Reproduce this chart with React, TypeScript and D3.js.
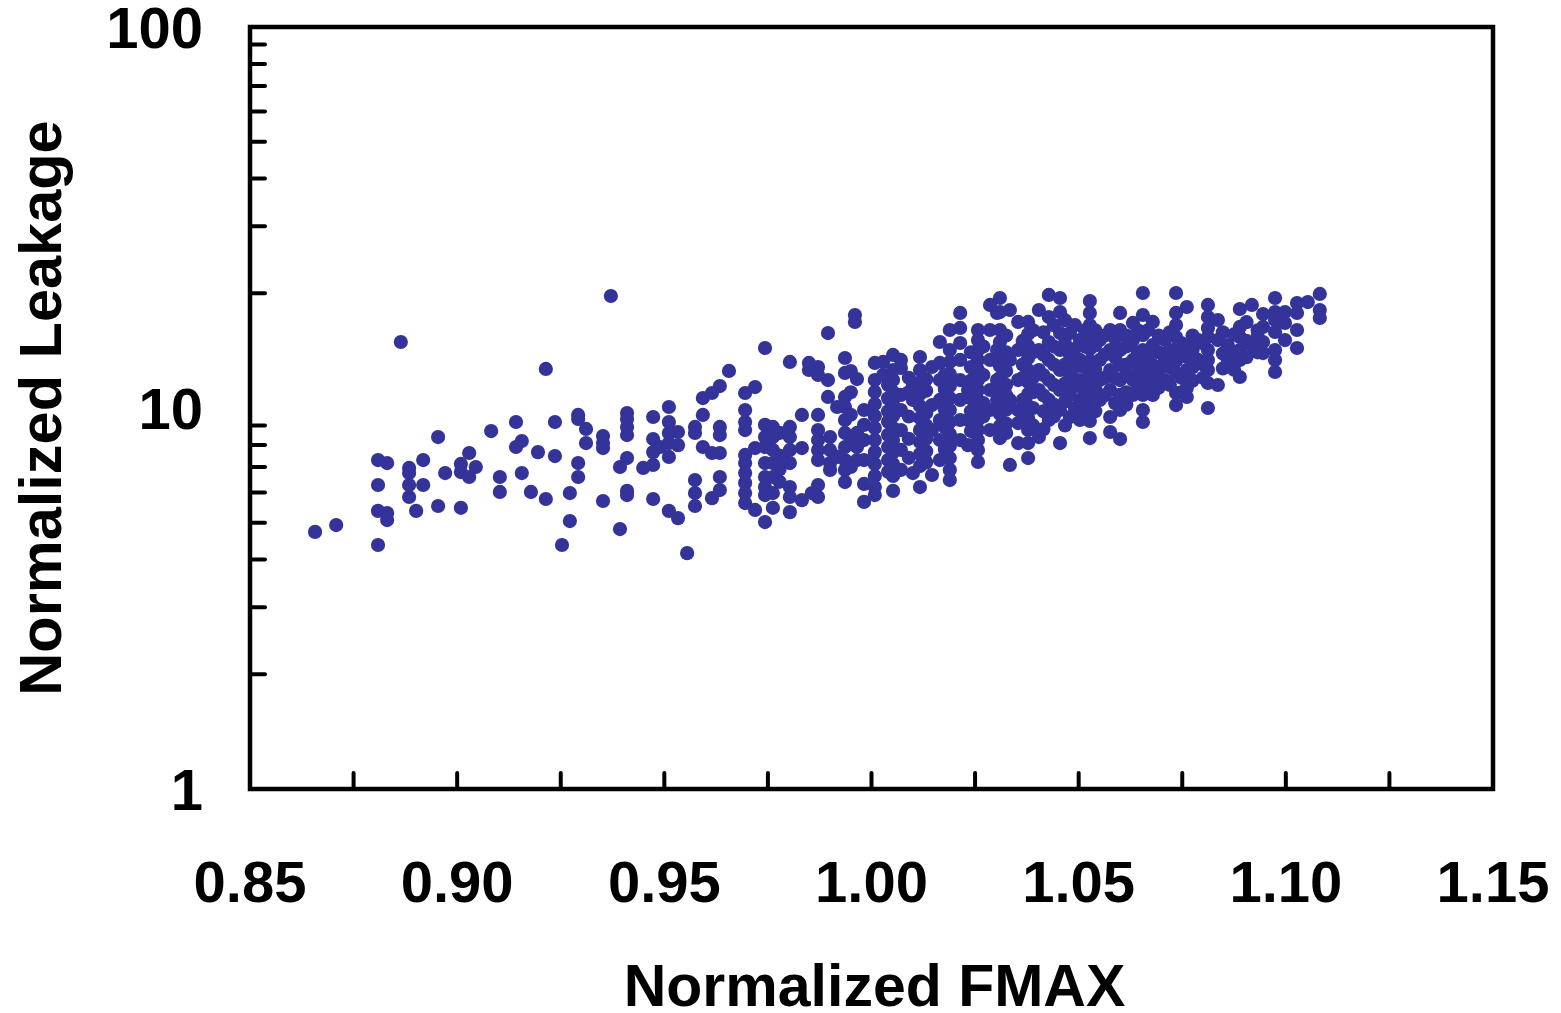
import React from 'react';
import * as d3 from 'd3';

// Scattered points (FMAX, Leakage) on the left side of the cloud
const sparsePoints: [number, number][] = [
  [0.8864, 14.9], [0.9142, 9.19], [0.9082, 8.7], [0.8954, 8.39], [0.9156, 8.19], [0.9142, 7.9],
  [0.9029, 7.62], [0.9195, 7.66], [0.8809, 7.3], [0.8831, 7.17], [0.8918, 7.3], [0.8884, 6.96],
  [0.9009, 7.13], [0.9045, 7.0], [0.9009, 6.79], [0.8971, 6.75], [0.8884, 6.75], [0.9029, 6.59],
  [0.9103, 6.59], [0.9156, 6.75], [0.8809, 6.28], [0.8884, 6.28], [0.8918, 6.28], [0.9103, 6.02],
  [0.9178, 6.02], [0.8884, 5.84], [0.8809, 5.37], [0.8831, 5.3], [0.8831, 5.08], [0.8901, 5.37],
  [0.8954, 5.53], [0.9009, 5.47], [0.8708, 4.93], [0.8657, 4.73], [0.8809, 4.37], [0.9214, 12.66],
  [0.9214, 5.77],
  [0.9371, 19.68], [0.9656, 12.51], [0.9634, 11.42], [0.9615, 10.95], [0.9593, 10.62], [0.9511, 10.06],
  [0.9593, 9.59], [0.9292, 9.59], [0.9292, 9.36], [0.9236, 9.19], [0.941, 9.7], [0.941, 9.36],
  [0.941, 8.92], [0.941, 8.49], [0.9473, 9.47], [0.9511, 9.19], [0.9533, 8.65], [0.9511, 8.6],
  [0.9574, 8.92], [0.9574, 8.6], [0.9634, 8.92], [0.9634, 8.49], [0.9311, 8.81], [0.9352, 8.44],
  [0.9352, 8.09], [0.9352, 7.85], [0.9311, 8.09], [0.9473, 8.29], [0.9511, 8.09], [0.9533, 7.99],
  [0.949, 7.9], [0.9473, 7.66], [0.9511, 7.44], [0.9593, 7.9], [0.9615, 7.62], [0.9634, 7.62],
  [0.9236, 7.48], [0.941, 7.39], [0.9393, 7.0], [0.9292, 7.17], [0.9292, 6.59], [0.9473, 7.09],
  [0.9449, 6.96], [0.9574, 6.47], [0.9574, 5.98], [0.9574, 5.53], [0.9634, 6.59], [0.9634, 6.09],
  [0.9615, 5.8], [0.9272, 5.98], [0.9352, 5.7], [0.941, 6.06], [0.941, 5.91], [0.9473, 5.77],
  [0.9511, 5.37], [0.9533, 5.14], [0.9272, 5.05], [0.9393, 4.81], [0.9253, 4.37], [0.9555, 4.16],
];

// Denser part of the cloud, grouped by FMAX column
const columnFmax: number[] = [
  0.9695, 0.9719, 0.9743, 0.9762, 0.9786, 0.9803, 0.9832, 0.9849, 0.9856, 0.9871,
  0.9895, 0.99, 0.9917, 0.9936, 0.996, 0.9965, 0.9982, 1.0008, 1.0028, 1.0052,
  1.0071, 1.01, 1.0117, 1.0146, 1.0165, 1.0189, 1.0214, 1.0233, 1.0257, 1.0286,
  1.0303, 1.031, 1.0334, 1.0354, 1.0378, 1.0404, 1.0428, 1.0455, 1.0479, 1.0503,
  1.0527, 1.0551, 1.0576, 1.06, 1.0631, 1.0655, 1.0679, 1.0708, 1.0735, 1.0761,
  1.0788, 1.0812, 1.0836, 1.086, 1.0889, 1.0918, 1.0945, 1.0974, 1.0998, 1.1027,
  1.1053, 1.1082,
  0.9778, 0.995, 1.004, 1.009, 1.0132, 1.0177, 1.024, 1.027, 1.0325, 1.0365,
  1.039, 1.0415, 1.044, 1.0467, 1.0491, 1.0515, 1.054, 1.0563, 1.0588, 1.0615,
  1.0643, 1.0667, 1.0693, 1.072, 1.0748, 1.0775, 1.08, 1.0848, 1.0875, 1.0905,
  1.0932,
];

const columnLeakage: number[][] = [
  [10.95, 9.88, 9.19, 8.75, 7.53, 7.17, 6.75, 6.36, 5.98, 5.63],
  [11.35, 7.85, 5.4],
  [14.37, 9.03, 8.39, 7.9, 7.17, 6.59, 6.2, 5.91, 5.02],
  [8.92, 8.39, 7.76, 7.17, 6.59, 5.98, 5.47],
  [7.44],
  [13.21, 8.92, 8.39, 7.76, 7.17, 6.2, 5.84, 5.33],
  [9.59, 7.85, 5.73],
  [13.13, 12.58],
  [5.98],
  [12.81, 12.21, 9.59, 8.75, 8.24, 7.76, 7.3, 6.28, 5.84],
  [15.73, 11.84, 10.69],
  [8.39, 7.76, 7.17, 6.88],
  [10.06, 7.44],
  [13.53, 12.36, 10.69, 10.06, 9.3, 8.6, 7.9, 7.3, 6.88, 6.39],
  [17.54, 16.82],
  [11.91, 8.6, 7.9, 7.3],
  [9.88, 9.03, 8.24, 7.3, 6.32, 5.67],
  [13.13, 11.84, 11.02, 10.24, 9.53, 8.86, 8.24, 7.66, 7.13, 6.63, 6.2, 5.91],
  [13.21, 12.21],
  [13.78, 12.58, 11.84, 11.02, 10.24, 9.53, 8.86, 8.24, 7.66, 7.13, 6.63, 6.06],
  [13.37, 12.74, 10.82, 9.88, 8.75, 7.76, 6.88],
  [11.49, 10.5, 6.75],
  [13.61, 12.58, 11.7, 10.88, 10.12, 9.41, 8.75, 8.14, 7.57, 7.04, 6.2],
  [12.81, 10.18, 8.75, 6.67],
  [14.9, 13.13, 11.84, 10.5, 9.3, 8.24, 7.3],
  [16.02, 14.2, 13.21, 12.28, 11.42, 10.62, 9.88, 9.19, 8.55, 7.95, 7.39, 6.88, 6.47],
  [17.76, 16.22, 14.81, 13.37, 11.84, 10.5, 9.3, 8.24],
  [11.15, 9.3, 7.99],
  [16.02, 15.08, 14.2, 13.37, 12.58, 11.84, 11.15, 10.5, 9.88, 9.3, 8.75, 8.24, 7.76, 7.22],
  [18.64, 16.02, 13.37, 11.15, 9.88, 8.75],
  [17.76, 14.2, 11.84, 10.5],
  [19.44, 17.86, 16.02, 14.9, 13.86, 12.89, 11.99, 11.15, 10.37, 9.64, 8.97, 8.34],
  [18.08, 13.37, 10.5, 7.09],
  [16.82, 14.2, 11.84, 9.88, 9.13, 8.09],
  [16.82, 15.64, 14.54, 13.53, 12.58, 11.7, 10.88, 10.12, 9.41, 8.75, 8.09, 7.39],
  [18.08, 14.2, 12.58, 11.15, 8.39],
  [19.8, 17.33, 14.9, 13.37, 11.84, 10.5, 9.3],
  [19.44, 17.86, 15.73, 14.2, 12.58, 11.15, 9.88, 8.09],
  [15.73, 13.78, 12.21, 10.82, 9.47],
  [15.08, 13.37, 11.84, 10.5, 9.3],
  [19.09, 17.76, 16.51, 15.36, 14.28, 13.29, 12.36, 11.49, 10.69, 9.94, 9.25, 8.34],
  [15.08, 13.37, 11.84, 10.5],
  [16.02, 14.2, 12.58, 11.15, 9.47, 8.65],
  [17.76, 16.02, 14.2, 12.97, 11.84, 10.82, 9.88, 8.29],
  [16.72, 15.08, 13.37, 11.84, 10.82],
  [20.04, 17.54, 15.54, 14.2, 12.97, 11.84, 10.82, 9.88, 9.19],
  [16.82, 14.63, 12.97, 11.84, 10.82],
  [15.08, 13.37, 11.84],
  [20.04, 17.76, 16.51, 15.36, 14.28, 13.29, 12.36, 10.95, 10.18],
  [18.41, 14.46, 13.61, 12.58, 11.28, 10.69],
  [15.08, 13.37],
  [18.64, 17.33, 16.22, 15.36, 14.2, 13.37, 12.58, 11.63, 10.0],
  [17.02, 15.08, 11.49],
  [14.63, 13.37],
  [18.19, 16.32, 15.36, 14.2, 13.37, 12.06],
  [18.64, 14.63],
  [17.65, 16.32, 14.9, 13.94],
  [19.44, 17.86, 17.02, 15.83, 14.2, 13.37, 12.43],
  [17.86, 16.72, 15.08],
  [18.86, 17.76, 16.02, 14.37],
  [18.97],
  [19.92, 18.08, 17.23],
  // additional columns filling the dense core
  [8.6, 7.5, 6.9, 6.4],
  [12.5, 11.0, 9.6, 8.2, 7.0],
  [11.5, 10.6, 9.8, 9.2, 8.5, 7.9, 7.3, 6.8],
  [12.0, 11.0, 9.5, 8.3, 7.4],
  [11.9, 11.1, 9.7, 9.0, 8.3, 7.7, 7.2],
  [12.2, 11.2, 9.9, 8.9, 7.8],
  [14.0, 12.8, 11.8, 10.6, 9.8, 8.7],
  [14.5, 12.2, 10.3, 9.5],
  [15.5, 14.0, 12.5, 11.5, 10.8, 9.9, 9.1, 8.6],
  [15.0, 13.0, 12.0, 10.5, 9.6],
  [16.0, 14.0, 12.0, 11.0, 10.0, 9.0],
  [15.8, 13.8, 12.2, 10.8, 9.8, 8.8],
  [16.5, 14.5, 13.0, 11.5, 10.2, 9.5],
  [17.0, 14.8, 13.0, 11.6, 10.4, 9.0],
  [16.5, 14.3, 12.8, 11.4, 10.0],
  [16.0, 14.5, 12.8, 11.0, 9.8],
  [16.0, 14.6, 12.6, 11.2, 9.8],
  [15.5, 13.8, 12.0, 10.8],
  [15.2, 13.6, 12.0, 10.3],
  [15.5, 14.5, 13.0, 12.2, 11.0, 10.2],
  [16.0, 14.0, 12.5, 11.2],
  [16.0, 13.8, 12.3, 11.2],
  [15.5, 14.0, 12.6, 11.3],
  [15.8, 14.2, 12.8, 11.5],
  [14.8, 13.8, 12.0, 11.0],
  [15.5, 14.2, 12.8, 11.8],
  [14.8, 13.0, 12.0],
  [15.8, 13.9, 12.7],
  [15.6, 14.0, 12.6],
  [16.8, 15.0, 13.6],
  [16.0, 15.4, 14.0],
];

const xLabelValues = [0.85, 0.9, 0.95, 1.0, 1.05, 1.1, 1.15];
const xTickValues = [0.875, 0.9, 0.925, 0.95, 0.975, 1.0, 1.025, 1.05, 1.075, 1.1, 1.125];
const yLabelValues = [1, 10, 100];
const yTickValues = [2, 3, 4, 5, 6, 7, 8, 9, 20, 30, 40, 50, 60, 70, 80, 90];

const xTitle = 'Normalized FMAX';
const yTitle = 'Normalized Leakage';

export default function App() {
  const W = 1561;
  const H = 1013;
  const left = 250, right = 1493, top = 27, bottom = 789;
  const x = d3.scaleLinear().domain([0.85, 1.15]).range([left, right]);
  const y = d3.scaleLog().domain([1, 100]).range([bottom, top]);
  const fmt = d3.format('.2f');
  const font = '"Liberation Sans", Arial, Helvetica, sans-serif';
  const color = '#333399';

  const points: [number, number][] = [
    ...sparsePoints,
    ...columnFmax.flatMap((fx, i) => columnLeakage[i].map((l) => [fx, l] as [number, number])),
  ];

  return (
    <svg
      width={W}
      height={H}
      style={{ position: 'absolute', left: 0, top: 0, background: '#fff' }}
      fontFamily={font}
    >
      <rect x={0} y={0} width={W} height={H} fill="#fff" />
      <g>
        {points.map((p, i) => (
          <circle key={i} cx={x(p[0])} cy={y(p[1])} r={7.1} fill={color} />
        ))}
      </g>
      <g stroke="#000" strokeWidth={4} strokeLinecap="round">
        {xTickValues.map((v) => (
          <line key={v} x1={x(v)} x2={x(v)} y1={bottom} y2={bottom - 16} />
        ))}
        {yTickValues.map((v) => (
          <line key={v} x1={left} x2={left + 15} y1={y(v)} y2={y(v)} />
        ))}
      </g>
      <rect
        x={left}
        y={top}
        width={right - left}
        height={bottom - top}
        fill="none"
        stroke="#000"
        strokeWidth={4.5}
      />
      <g fontWeight="bold" fill="#000">
        {xLabelValues.map((v) => (
          <text key={v} x={x(v)} y={902} textAnchor="middle" fontSize={58}>
            {fmt(v)}
          </text>
        ))}
        {yLabelValues.map((v) => (
          <text key={v} x={203} y={y(v) + 21} textAnchor="end" fontSize={58}>
            {String(v)}
          </text>
        ))}
        <text x={(left + right) / 2 + 3} y={1006} textAnchor="middle" fontSize={59}>
          {xTitle}
        </text>
        <text
          transform={`translate(61, ${(top + bottom) / 2}) rotate(-90)`}
          textAnchor="middle"
          fontSize={59.5}
        >
          {yTitle}
        </text>
      </g>
    </svg>
  );
}
